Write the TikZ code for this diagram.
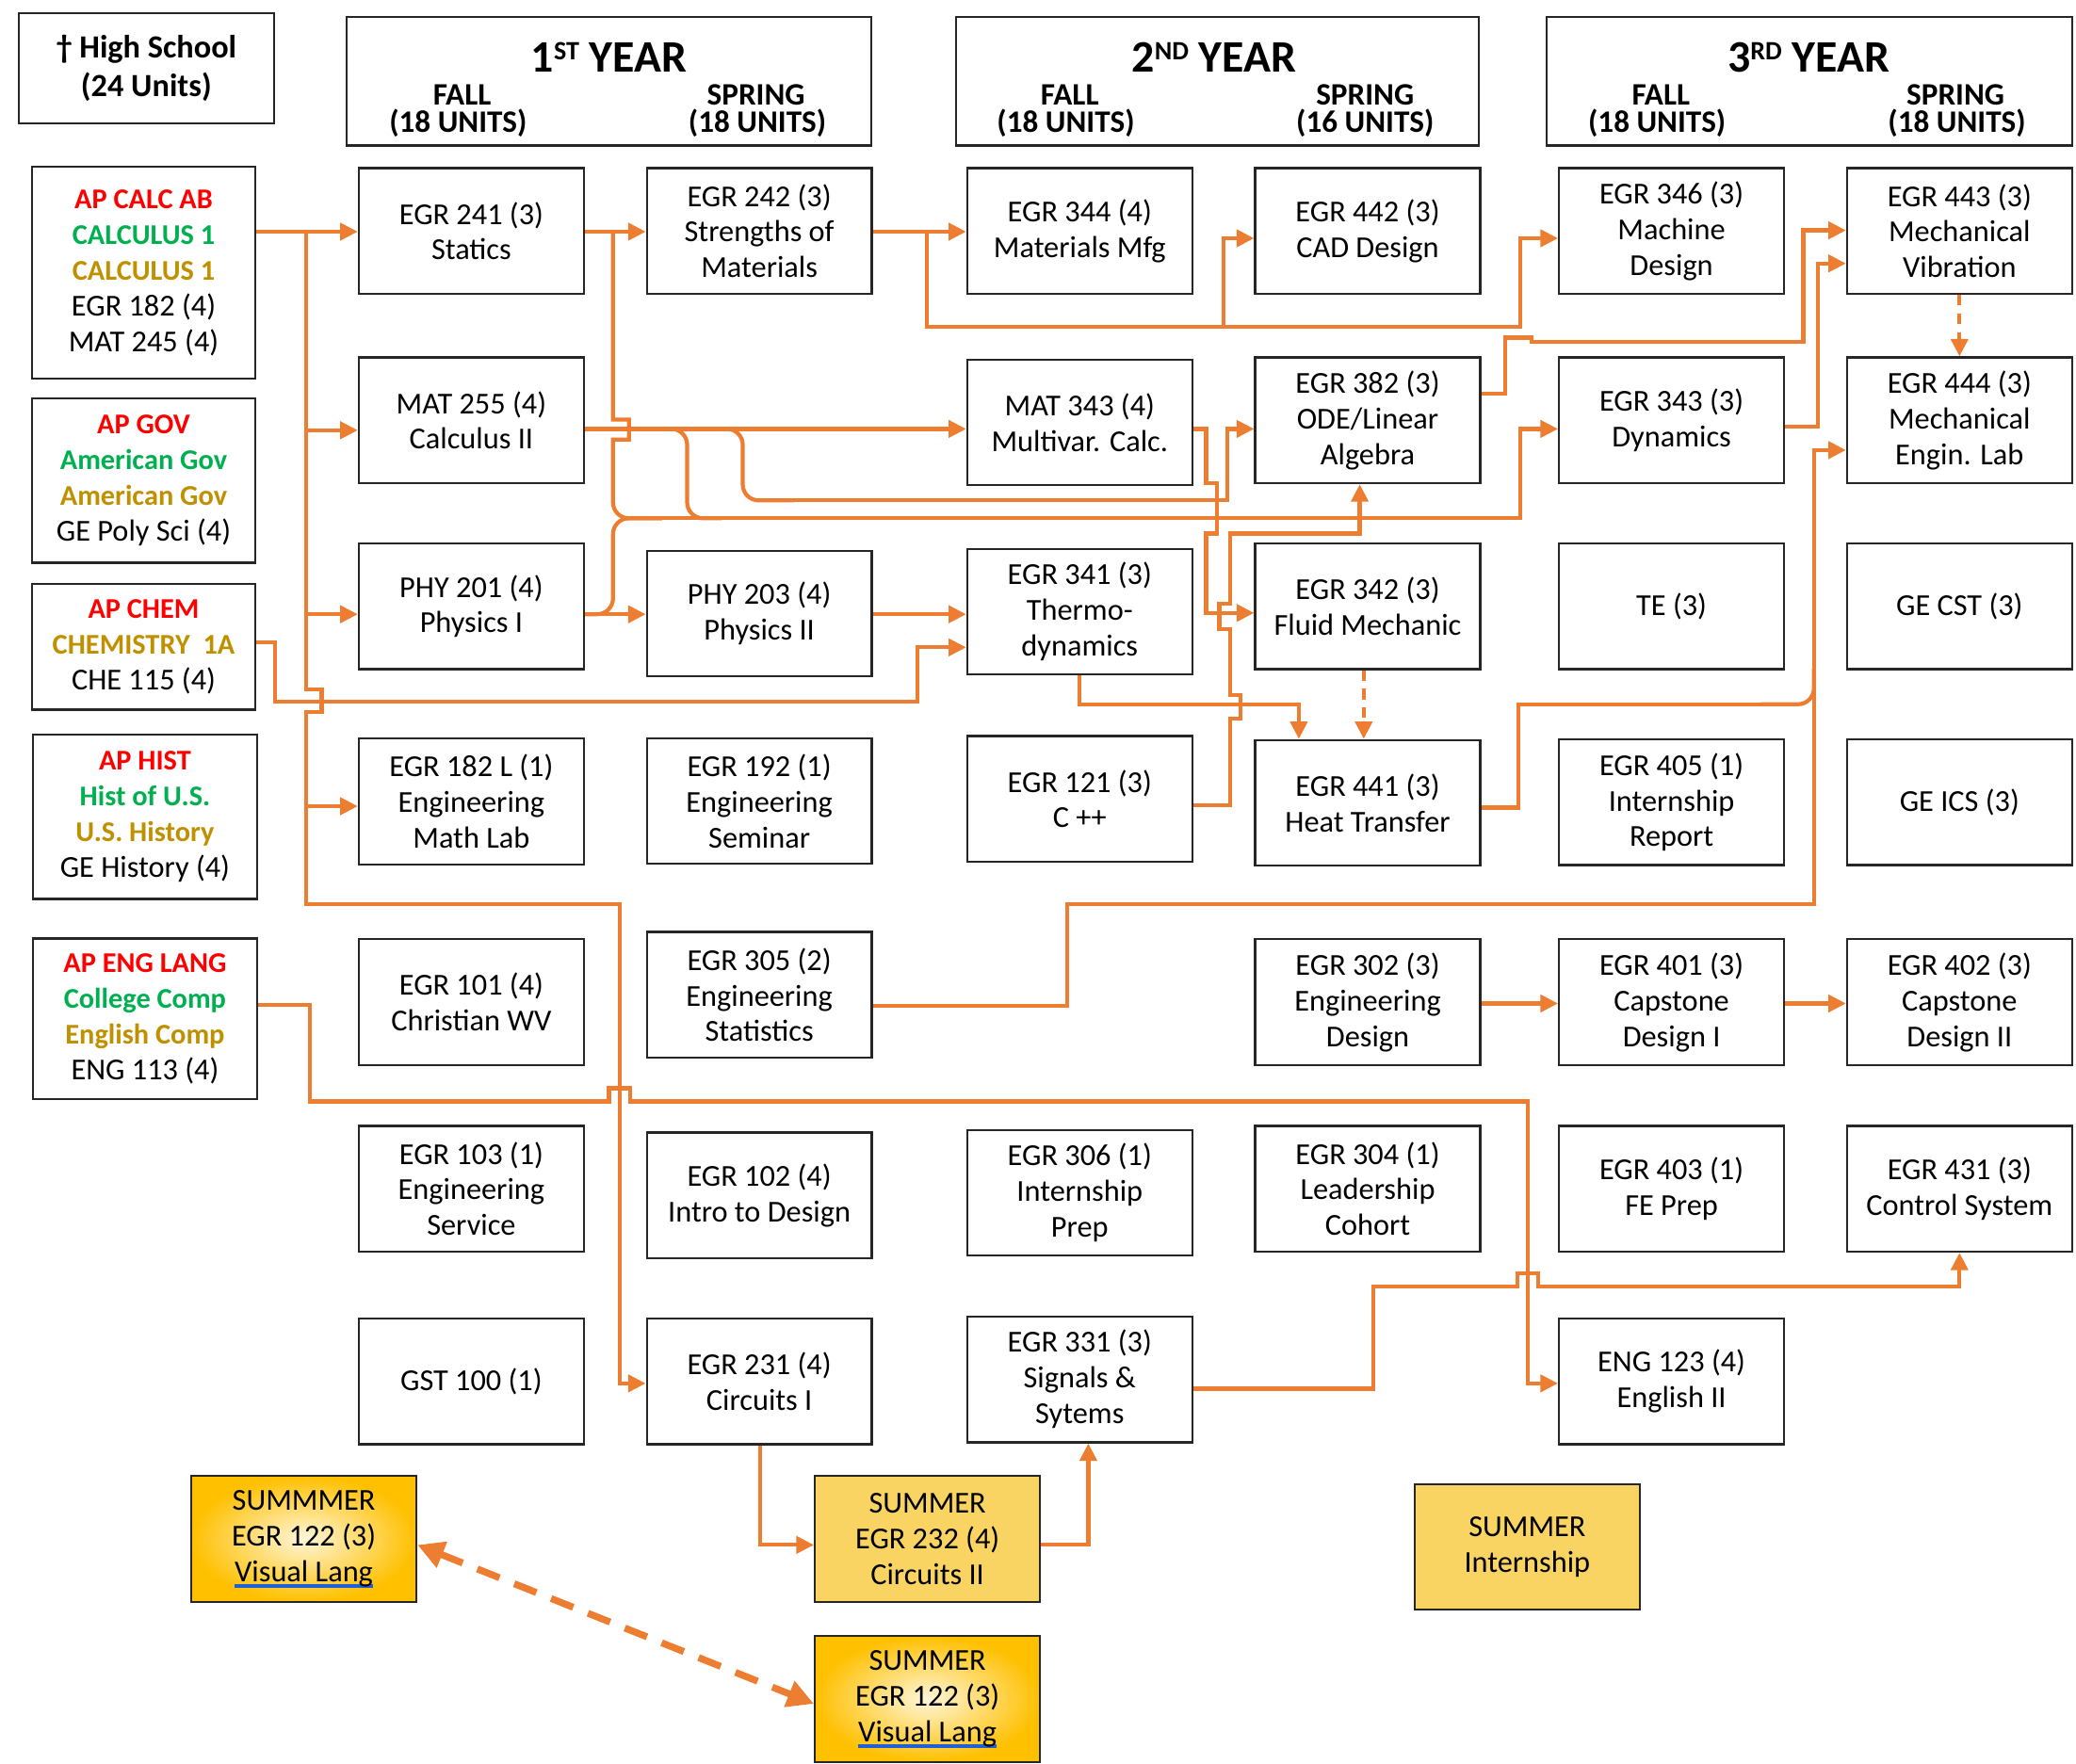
\documentclass[tikz,border=0pt]{standalone}
\usepackage{fontspec}
\setmainfont{Carlito}
\usetikzlibrary{arrows.meta}
\definecolor{og}{HTML}{ED7D31}
\definecolor{apred}{HTML}{FF0000}
\definecolor{apgreen}{HTML}{00B050}
\definecolor{apgold}{HTML}{BF9000}
\definecolor{sumy}{HTML}{F9D463}
\definecolor{sumdeep}{HTML}{FFC000}
\definecolor{sumlight}{HTML}{FFF6DA}
\definecolor{ulblue}{HTML}{1F5FD8}
\newcommand\bul[1]{\setbox0=\hbox{#1}\rlap{\color{ulblue}\rule[-2.2pt]{\wd0}{1.3pt}}\box0}
\newcommand\txr[1]{{\fontsize{10.8}{13.5}\selectfont\bfseries\color{apred}#1}}
\newcommand\txg[1]{{\fontsize{10.8}{13.5}\selectfont\bfseries\color{apgreen}#1}}
\newcommand\txy[1]{{\fontsize{10.8}{13.5}\selectfont\bfseries\color{apgold}#1}}
\begin{document}
\begin{tikzpicture}[x=0.5pt,y=-0.5pt,
  box/.style={draw=black!85, line width=0.8pt, fill=white, minimum width=85pt, minimum height=47.5pt, inner sep=0pt, align=center, font=\fontsize{11.5}{13.5}\selectfont},
  hsbox/.style={box, minimum width=84.5pt},
  hdrbox/.style={draw=black!85, line width=0.8pt, fill=white, minimum height=48.5pt, inner sep=0pt},
  ttl/.style={anchor=base, inner sep=0pt, font=\fontsize{17}{17}\selectfont\bfseries},
  sem/.style={anchor=base, inner sep=0pt, font=\fontsize{11.8}{11.8}\selectfont\bfseries},
  sumbox/.style={box, fill=sumy},
  sumgrad/.style={box, inner color=sumlight, outer color=sumdeep},
  wire/.style={draw=og, line width=1.5pt},
  arr/.style={wire, -{Triangle[length=6.6pt,width=6.4pt]}},
  darr/.style={arr, dash pattern=on 4pt off 3pt},
  bigd/.style={draw=og, line width=2.6pt, dash pattern=on 9pt off 6pt, {Triangle[length=10pt,width=10pt]}-{Triangle[length=10pt,width=10pt]}}
]
\useasboundingbox (0,0) rectangle (1568,1332.5);

% ---------- headers ----------
\node[box, minimum width=96.5pt, minimum height=41.5pt, font=\fontsize{12.2}{14.5}\selectfont\bfseries] (hs) at (110.5,51.5) {\textdagger{} High School\\(24 Units)};

\node[hdrbox, minimum width=198pt] (y1) at (460,61.5) {};
\node[hdrbox, minimum width=197.5pt] (y2) at (919.5,61.5) {};
\node[hdrbox, minimum width=198.5pt] (y3) at (1366.5,61.5) {};

\node[ttl] (t1) at (460,54.6) {1\raisebox{4.6pt}{\fontsize{10}{10}\selectfont ST} YEAR};
\node[ttl] (t2) at (917,54.6) {2\raisebox{4.6pt}{\fontsize{10}{10}\selectfont ND} YEAR};
\node[ttl] (t3) at (1366,54.6) {3\raisebox{4.6pt}{\fontsize{10}{10}\selectfont RD} YEAR};

\node[sem] (f1) at (349,79.5) {FALL};
\node[sem] (f1u) at (346,100) {(18 UNITS)};
\node[sem] (s1) at (571,79.5) {SPRING};
\node[sem] (s1u) at (572,100) {(18 UNITS)};
\node[sem] (f2) at (808,79.5) {FALL};
\node[sem] (f2u) at (805,100) {(18 UNITS)};
\node[sem] (s2) at (1031,79.5) {SPRING};
\node[sem] (s2u) at (1031,100) {(16 UNITS)};
\node[sem] (f3) at (1254.5,79.5) {FALL};
\node[sem] (f3u) at (1251.5,100) {(18 UNITS)};
\node[sem] (s3) at (1477,79.5) {SPRING};
\node[sem] (s3u) at (1478,100) {(18 UNITS)};

% ---------- high school column ----------
\node[hsbox, minimum height=80pt] (apcalc) at (108.5,206) {\txr{AP CALC AB}\\\txg{CALCULUS 1}\\\txy{CALCULUS 1}\\EGR 182 (4)\\MAT 245 (4)};
\node[hsbox, minimum height=62pt] (apgov) at (108.5,363) {\txr{AP GOV}\\\txg{American Gov}\\\txy{American Gov}\\GE Poly Sci (4)};
\node[hsbox] (apchem) at (108.5,488.5) {\txr{AP CHEM}\\\txy{CHEMISTRY\ \ 1A}\\CHE 115 (4)};
\node[hsbox, minimum height=62pt] (aphist) at (109.5,617) {\txr{AP HIST}\\\txg{Hist of U.S.}\\\txy{U.S. History}\\GE History (4)};
\node[hsbox, minimum height=60.5pt] (apeng) at (109.5,769.5) {\txr{AP ENG LANG}\\\txg{College Comp}\\\txy{English Comp}\\ENG 113 (4)};

% ---------- course boxes ----------
% row 1
\node[box] (e241) at (356,174.5) {EGR 241 (3)\\Statics};
\node[box] (e242) at (573.5,174.5) {EGR 242 (3)\\Strengths of\\Materials};
\node[box] (e344) at (815.5,174.5) {EGR 344 (4)\\Materials Mfg};
\node[box] (e442) at (1033,174.5) {EGR 442 (3)\\CAD Design};
\node[box] (e346) at (1262.5,174.5) {EGR 346 (3)\\Machine\\Design};
\node[box] (e443) at (1480,174.5) {EGR 443 (3)\\Mechanical\\Vibration};
% row 2
\node[box] (m255) at (356,317.5) {MAT 255 (4)\\Calculus II};
\node[box] (m343) at (815.5,319) {MAT 343 (4)\\Multivar. Calc.};
\node[box] (e382) at (1033,317.5) {EGR 382 (3)\\ODE/Linear\\Algebra};
\node[box] (e343) at (1262.5,317.5) {EGR 343 (3)\\Dynamics};
\node[box] (e444) at (1480,317.5) {EGR 444 (3)\\Mechanical\\Engin. Lab};
% row 3
\node[box] (p201) at (356,458) {PHY 201 (4)\\Physics I};
\node[box] (p203) at (573.5,463.5) {PHY 203 (4)\\Physics II};
\node[box] (e341) at (815.5,462) {EGR 341 (3)\\Thermo-\\dynamics};
\node[box] (e342) at (1033,458) {EGR 342 (3)\\Fluid Mechanic};
\node[box] (te) at (1262.5,458) {TE (3)};
\node[box] (gecst) at (1480,458) {GE CST (3)};
% row 4
\node[box] (e182l) at (356,605.5) {EGR 182 L (1)\\Engineering\\Math Lab};
\node[box] (e192) at (573.5,605) {EGR 192 (1)\\Engineering\\Seminar};
\node[box] (e121) at (815.5,603.5) {EGR 121 (3)\\C ++};
\node[box] (e441) at (1033,606.5) {EGR 441 (3)\\Heat Transfer};
\node[box] (e405) at (1262.5,606) {EGR 405 (1)\\Internship\\Report};
\node[box] (geics) at (1480,606) {GE ICS (3)};
% row 5
\node[box] (e101) at (356,757) {EGR 101 (4)\\Christian WV};
\node[box] (e305) at (573.5,751.5) {EGR 305 (2)\\Engineering\\Statistics};
\node[box] (e302) at (1033,757) {EGR 302 (3)\\Engineering\\Design};
\node[box] (e401) at (1262.5,757) {EGR 401 (3)\\Capstone\\Design I};
\node[box] (e402) at (1480,757) {EGR 402 (3)\\Capstone\\Design II};
% row 6
\node[box] (e103) at (356,898) {EGR 103 (1)\\Engineering\\Service};
\node[box] (e102) at (573.5,903) {EGR 102 (4)\\Intro to Design};
\node[box] (e306) at (815.5,901) {EGR 306 (1)\\Internship\\Prep};
\node[box] (e304) at (1033,898) {EGR 304 (1)\\Leadership\\Cohort};
\node[box] (e403) at (1262.5,898) {EGR 403 (1)\\FE Prep};
\node[box] (e431) at (1480,898) {EGR 431 (3)\\Control System};
% row 7
\node[box] (g100) at (356,1043.5) {GST 100 (1)};
\node[box] (e231) at (573.5,1043.5) {EGR 231 (4)\\Circuits I};
\node[box] (e331) at (815.5,1042) {EGR 331 (3)\\Signals \&\\Sytems};
\node[box] (e123) at (1262.5,1043.5) {ENG 123 (4)\\English II};
% summer
\node[sumgrad] (s122a) at (229.5,1162.5) {SUMMMER\\EGR 122 (3)\\\bul{Visual Lang}};
\node[sumbox] (s232) at (700.5,1162.5) {SUMMER\\EGR 232 (4)\\Circuits II};
\node[sumbox] (sint) at (1153.5,1168.5) {SUMMER\\Internship};
\node[sumgrad] (s122b) at (700.5,1283.5) {SUMMER\\EGR 122 (3)\\\bul{Visual Lang}};

% ---------- connectors ----------
% AP CALC
\draw[arr] (apcalc.east |- 0,175) -- (e241.west |- 0,175);
\draw[arr] (231,175) -- (231,521) -- (243,521) -- (243,538) -- (231,538) -- (231,683) -- (468,683) -- (468,1045) -- (e231.west |- 0,1045);
\draw[arr] (231,325) -- (m255.west |- 0,325);
\draw[arr] (231,464) -- (p201.west |- 0,464);
\draw[arr] (231,609) -- (e182l.west |- 0,609);
% AP CHEM
\draw[arr] (apchem.east |- 0,485) -- (208,485) -- (208,530) -- (693,530) -- (693,489) -- (e341.west |- 0,489);
% EGR 241
\draw[arr] (e241.east |- 0,175) -- (e242.west |- 0,175);
\draw[wire] (463,175) -- (463,317) -- (475,317) -- (475,332) -- (463,332) [rounded corners=6pt] -- (463,391.5) -- (500,391.5);
% PHY 201
\draw[arr] (p201.east |- 0,464) -- (p203.west |- 0,464);
\draw[wire, rounded corners=6pt] (p201.east |- 0,464) -- (463,464) -- (463,391.5) -- (500,391.5);
% MAT 255
\draw[arr] (m255.east |- 0,324) -- (m343.west |- 0,324);
\draw[wire, rounded corners=6pt] (500,324) -- (519,324) -- (519,391.5) -- (545,391.5);
\draw[wire, rounded corners=6pt] (540,324) -- (561,324) -- (561,378) -- (600,378);
\draw[arr] (580,378) -- (927,378) -- (927,324) -- (e382.west |- 0,324);
\draw[arr] (490,391.5) -- (1148,391.5) -- (1148,324) -- (e343.west |- 0,324);
% MAT 343 -> EGR 342
\draw[arr] (m343.east |- 0,324) -- (911,324) -- (911,365) -- (919,365) -- (919,403) -- (911,403) -- (911,463) -- (e342.west |- 0,463);
% EGR 121 -> EGR 382
\draw[arr] (e121.east |- 0,608) -- (929,608) -- (929,543) -- (937,543) -- (937,525) -- (929,525) -- (929,475) -- (921,475) -- (921,456) -- (929,456) -- (929,403) -- (1027,403) -- (e382.south -| 1027,0);
% PHY 203 -> EGR 341
\draw[arr] (p203.east |- 0,464) -- (e341.west |- 0,464);
% EGR 341 -> EGR 441
\draw[arr] (e341.south) -- (815.5,532) -- (981,532) -- (e441.north -| 981,0);
\draw[darr] (e342.south -| 1030,0) -- (e441.north -| 1030,0);
% EGR 242
\draw[arr] (e242.east |- 0,175) -- (e344.west |- 0,175);
\draw[arr] (700,175) -- (700,247) -- (1148,247) -- (1148,180) -- (e346.west |- 0,180);
\draw[arr] (924,247) -- (924,180) -- (e442.west |- 0,180);
% EGR 382 -> EGR 443
\draw[arr] (e382.east |- 0,297.5) -- (1137,297.5) -- (1137,255) -- (1157,255) -- (1157,258) -- (1362,258) -- (1362,174) -- (e443.west |- 0,174);
% EGR 343 -> EGR 443
\draw[arr] (e343.east |- 0,322) -- (1373,322) -- (1373,199) -- (e443.west |- 0,199);
\draw[darr] (e443.south -| 1480,0) -- (e444.north -| 1480,0);
% EGR 305 / EGR 441 -> EGR 444
\draw[arr] (e305.east |- 0,760) -- (806,760) -- (806,683) -- (1370,683) -- (1370,340) -- (e444.west |- 0,340);
\draw[wire] (e441.east |- 0,610) -- (1147,610) -- (1147,532) -- (1340,532);
\draw[wire, rounded corners=6pt] (1330,532) -- (1370,532) -- (1370,505);
% capstone
\draw[arr] (e302.east |- 0,758) -- (e401.west |- 0,758);
\draw[arr] (e401.east |- 0,758) -- (e402.west |- 0,758);
% AP ENG -> ENG 123
\draw[arr] (apeng.east |- 0,759) -- (234,759) -- (234,832) -- (460,832) -- (460,822) -- (476,822) -- (476,832) -- (1154,832) -- (1154,1045) -- (e123.west |- 0,1045);
% EGR 331 -> EGR 431
\draw[arr] (e331.east |- 0,1049) -- (1037,1049) -- (1037,972) -- (1146,972) -- (1146,962) -- (1162,962) -- (1162,972) -- (1480,972) -- (e431.south -| 1480,0);
% circuits
\draw[arr] (e231.south -| 574,0) -- (574,1167) -- (s232.west |- 0,1167);
\draw[arr] (s232.east |- 0,1167) -- (822,1167) -- (e331.south -| 822,0);
% visual lang
\draw[bigd] (s122a.east |- 0,1167) -- (s122b.west |- 0,1287);
\end{tikzpicture}
\end{document}
